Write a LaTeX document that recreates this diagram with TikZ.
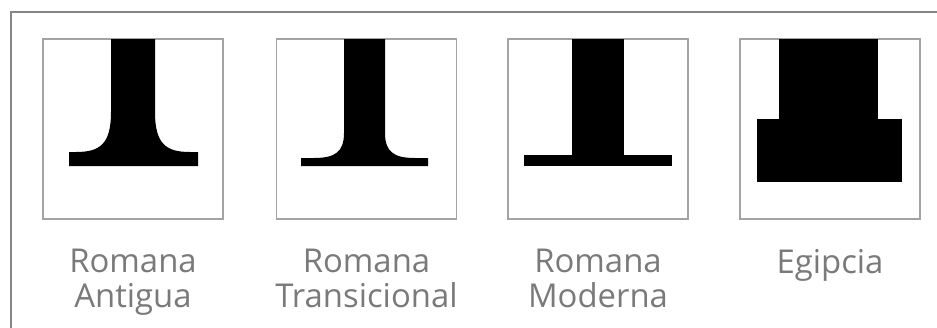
\documentclass[tikz,border=0pt]{standalone}
\usepackage{fontspec}
\usepackage{xcolor}
\usepackage{tikz}
\usetikzlibrary{positioning}
\newfontfamily\capfont{Open Sans}
\definecolor{framegray}{HTML}{858585}
\definecolor{boxgray}{HTML}{A3A3A3}
\definecolor{textgray}{HTML}{7A7A7A}

\begin{document}
\begin{tikzpicture}[
  x=0.02cm, y=-0.02cm,
  panel/.style={draw=boxgray, line width=0.8pt, minimum size=3.6cm, inner sep=0pt, fill=white},
  caption/.style={align=center, inner sep=0pt, text=textgray, font=\capfont\fontsize{18.7}{20}\selectfont},
  glyph/.style={fill=black, draw=none}
]
\useasboundingbox (0,0) rectangle (937,328);
\fill[white] (0,0) rectangle (937,328);

% outer frame, open at right and bottom
\draw[framegray, line width=1.1pt] (11,328) -- (11,12) -- (937,12);

\node[panel] (antigua) at (133,129) {};
\node[panel] (transicional) at (366.5,129) {};
\node[panel] (moderna) at (598,129) {};
\node[panel] (egipcia) at (830,129) {};

% Romana Antigua
\fill[glyph] (111,39) -- (111,112) .. controls (111,144) and (100,152) .. (76,152) -- (69,152)
  -- (69,166) -- (198,166) -- (198,152) -- (190,152) .. controls (166,152) and (155,144) .. (155,112)
  -- (155,39) -- cycle;
% Romana Transicional
\fill[glyph] (344,39) -- (344,133) .. controls (344,152) and (335,158) .. (314,158) -- (301,158)
  -- (301,166) -- (428,166) -- (428,158) -- (415,158) .. controls (394,158) and (385,152) .. (385,133)
  -- (385,39) -- cycle;
% Romana Moderna
\fill[glyph] (572,39) rectangle (624,156);
\fill[glyph] (524,155) rectangle (672,166);
% Egipcia
\fill[glyph] (779,39) rectangle (878,120);
\fill[glyph] (757,119) rectangle (902,182);

\node[caption, below=0.58cm of antigua] (antiguaLbl) {Romana\\Antigua};
\node[caption, below=0.58cm of transicional] (transicionalLbl) {Romana\\Transicional};
\node[caption, below=0.58cm of moderna] (modernaLbl) {Romana\\Moderna};
\node[caption, below=0.58cm of egipcia] (egipciaLbl) {Egipcia};

\end{tikzpicture}
\end{document}
